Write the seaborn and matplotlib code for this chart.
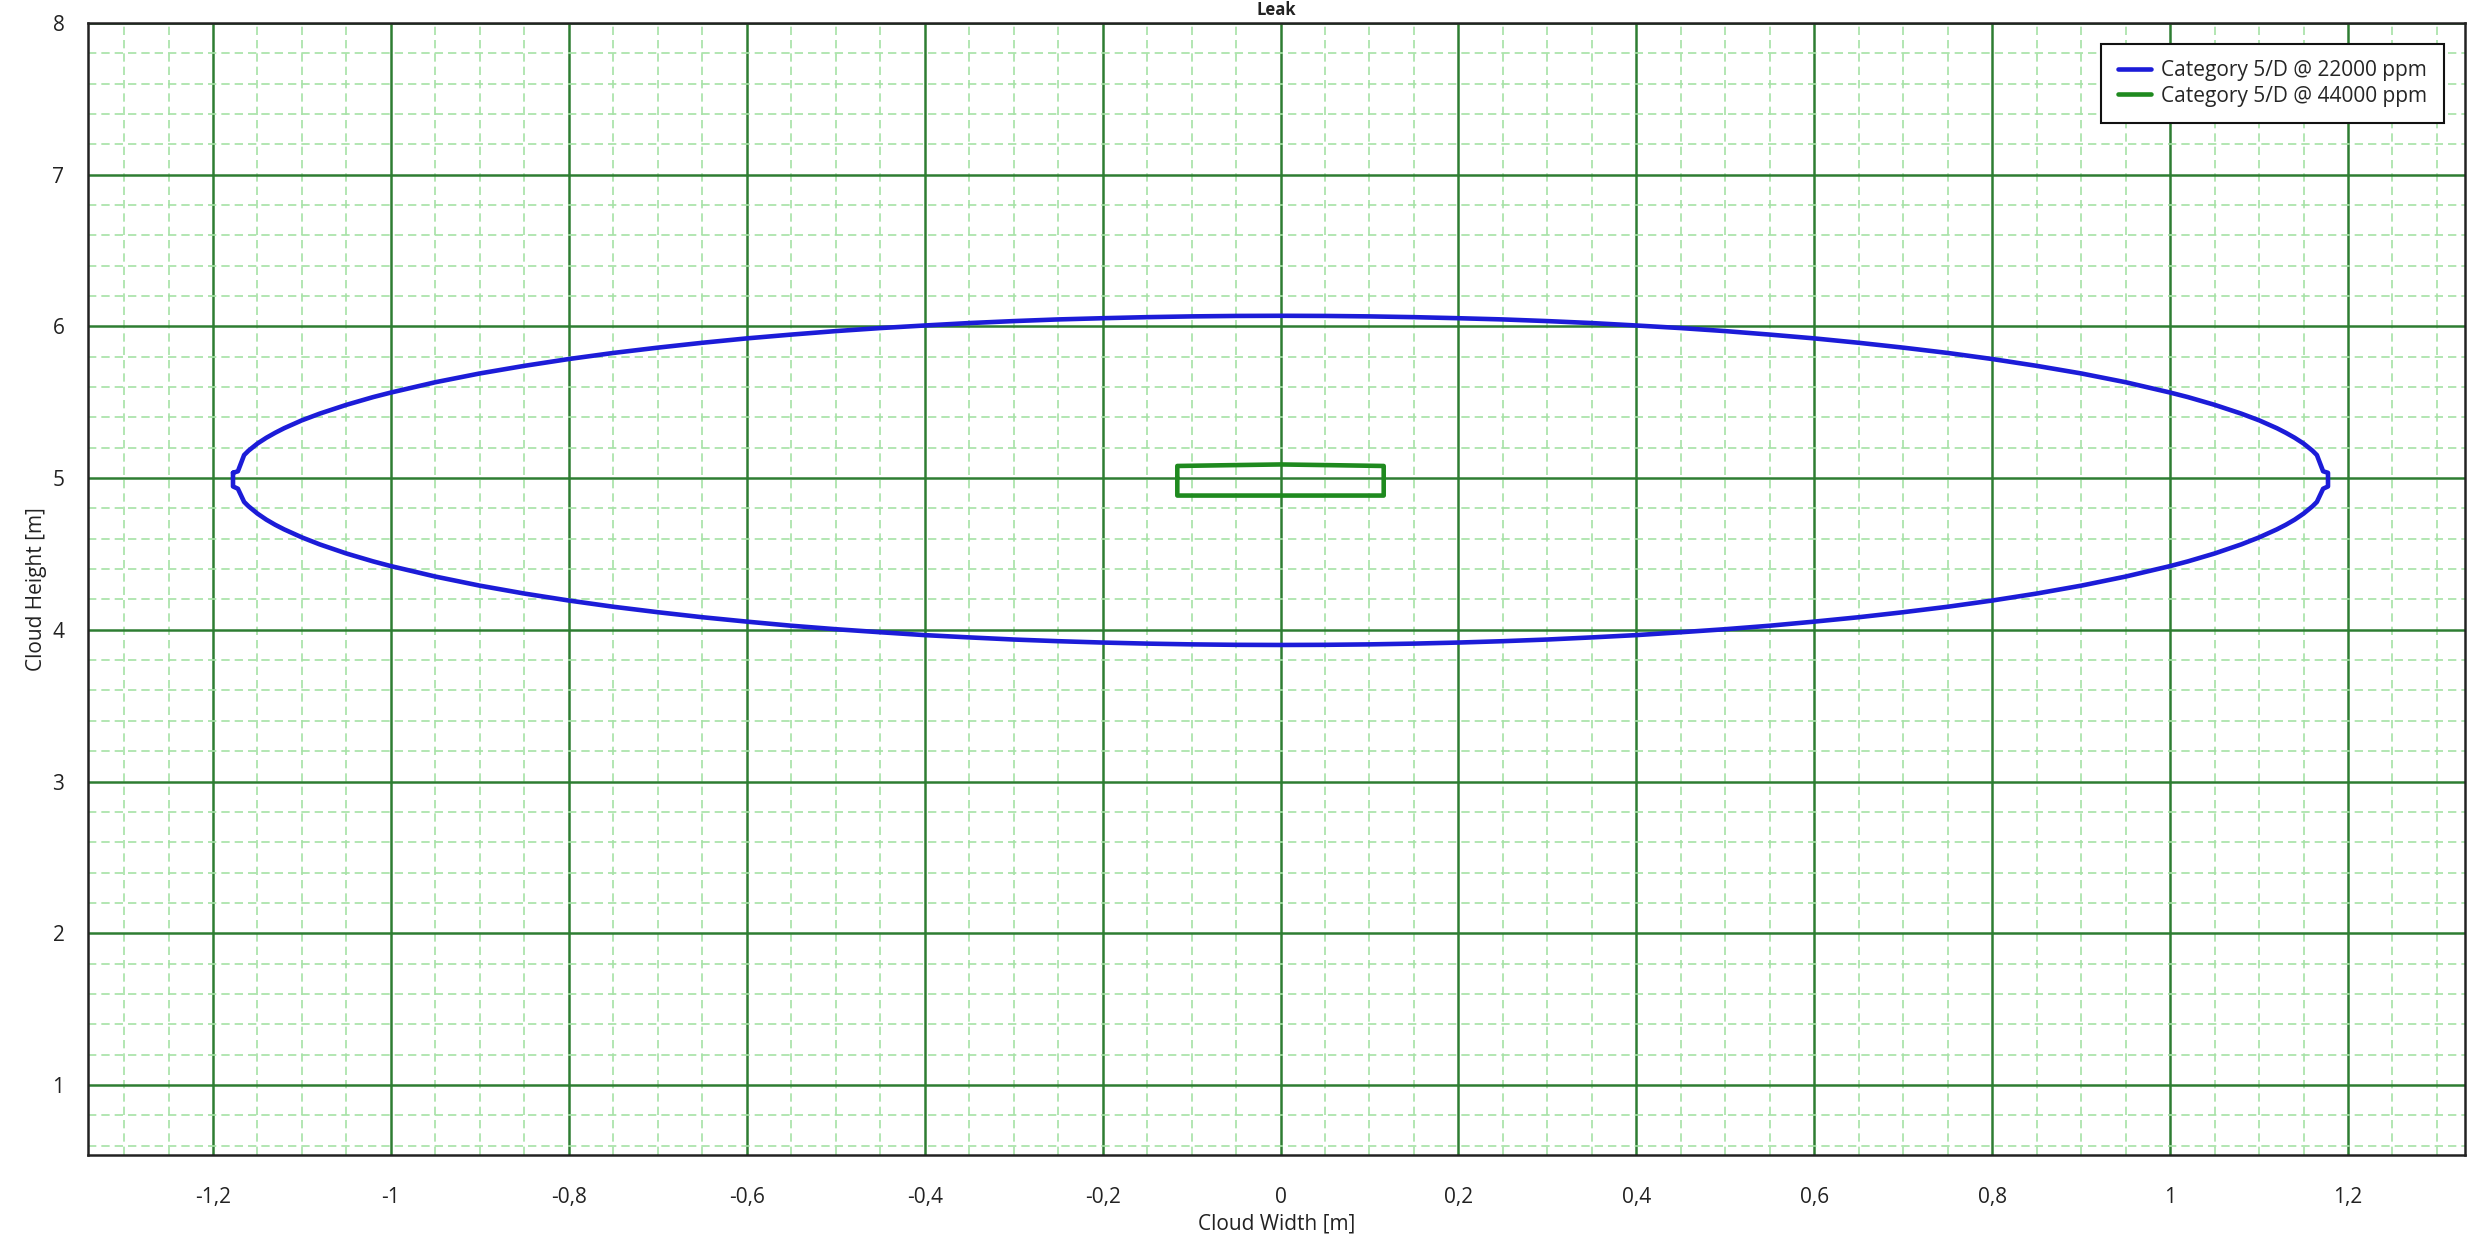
import matplotlib
matplotlib.use("Agg")
import matplotlib.pyplot as plt
from matplotlib.ticker import MultipleLocator, FuncFormatter
import seaborn as sns
import pandas as pd

# ---- data ----
series_names = ["Category 5/D @ 22000 ppm", "Category 5/D @ 44000 ppm"]

# 22000 ppm contour: x positions with upper and lower edge heights
c1_x = [-1.1775, -1.172, -1.165, -1.16, -1.15, -1.14, -1.13, -1.12, -1.10, -1.08,
        -1.05, -1.02, -1.00, -0.95, -0.90, -0.85, -0.80, -0.75, -0.70, -0.65,
        -0.60, -0.55, -0.50, -0.45, -0.40, -0.35, -0.30, -0.25, -0.20, -0.15,
        -0.10, -0.05, 0.00,
        0.05, 0.10, 0.15, 0.20, 0.25, 0.30, 0.35, 0.40, 0.45, 0.50,
        0.55, 0.60, 0.65, 0.70, 0.75, 0.80, 0.85, 0.90, 0.95, 1.00,
        1.02, 1.05, 1.08, 1.10, 1.12, 1.13, 1.14, 1.15, 1.16, 1.165, 1.172, 1.1775]
c1_upper = [5.035, 5.045, 5.152, 5.181, 5.228, 5.266, 5.299, 5.329, 5.381, 5.425,
            5.483, 5.534, 5.564, 5.632, 5.690, 5.740, 5.785, 5.825, 5.860, 5.892,
            5.921, 5.946, 5.969, 5.989, 6.006, 6.022, 6.035, 6.046, 6.054, 6.061,
            6.066, 6.069, 6.070,
            6.069, 6.066, 6.061, 6.054, 6.046, 6.035, 6.022, 6.006, 5.989, 5.969,
            5.946, 5.921, 5.892, 5.860, 5.825, 5.785, 5.740, 5.690, 5.632, 5.564,
            5.534, 5.483, 5.425, 5.381, 5.329, 5.299, 5.266, 5.228, 5.181, 5.152, 5.045, 5.035]
c1_lower = [4.945, 4.930, 4.843, 4.814, 4.766, 4.726, 4.692, 4.662, 4.609, 4.563,
            4.503, 4.451, 4.420, 4.351, 4.291, 4.239, 4.193, 4.152, 4.116, 4.083,
            4.054, 4.027, 4.004, 3.984, 3.965, 3.950, 3.936, 3.925, 3.916, 3.909,
            3.904, 3.901, 3.900,
            3.901, 3.904, 3.909, 3.916, 3.925, 3.936, 3.950, 3.965, 3.984, 4.004,
            4.027, 4.054, 4.083, 4.116, 4.152, 4.193, 4.239, 4.291, 4.351, 4.420,
            4.451, 4.503, 4.563, 4.609, 4.662, 4.692, 4.726, 4.766, 4.814, 4.843, 4.930, 4.945]

# 44000 ppm contour (closed loop)
c2_x = [-0.116, -0.116, -0.06, 0.00, 0.06, 0.116, 0.116, 0.00, -0.116, -0.116]
c2_y = [5.00, 5.08, 5.085, 5.09, 5.085, 5.08, 4.885, 4.885, 4.885, 5.00]

title_text = "Leak"
x_label = "Cloud Width [m]"
y_label = "Cloud Height [m]"

# closed loop for the 22000 ppm contour: upper edge left->right, lower edge right->left
loop_x = c1_x + c1_x[::-1] + [c1_x[0]]
loop_y = c1_upper + c1_lower[::-1] + [c1_upper[0]]

df = pd.DataFrame({
    "x": loop_x + c2_x,
    "y": loop_y + c2_y,
    "series": [series_names[0]] * len(loop_x) + [series_names[1]] * len(c2_x),
})

# ---- style ----
sns.set_style("white")
plt.rcParams["font.family"] = ["Open Sans", "DejaVu Sans"]

fig = plt.figure(figsize=(24.68, 12.40), dpi=100)
ax = fig.add_axes([88 / 2468, 1 - 1155 / 1240, (2465 - 88) / 2468, (1155 - 23) / 1240])

ax.set_xlim(-1.3405, 1.3315)
ax.set_ylim(0.538, 8.0)

ax.xaxis.set_major_locator(MultipleLocator(0.2))
ax.xaxis.set_minor_locator(MultipleLocator(0.05))
ax.yaxis.set_major_locator(MultipleLocator(1))
ax.yaxis.set_minor_locator(MultipleLocator(0.2))

def fmt(v, pos):
    if abs(v) < 1e-9:
        return "0"
    s = f"{v:.1f}".rstrip("0").rstrip(".")
    return s.replace(".", ",")

ax.xaxis.set_major_formatter(FuncFormatter(fmt))
ax.yaxis.set_major_formatter(FuncFormatter(fmt))

ax.grid(which="minor", color="#a6e2a6", linestyle=(0, (5, 3)), linewidth=1.2, zorder=0)
ax.grid(which="major", color="#2e7d32", linestyle="-", linewidth=1.8, zorder=0.5)
ax.set_axisbelow(True)

sns.lineplot(data=df, x="x", y="y", hue="series", sort=False, estimator=None,
             palette={series_names[0]: "#1c1cd8", series_names[1]: "#1f8a1f"},
             linewidth=3.3, ax=ax, legend=True)

for s in ax.spines.values():
    s.set_color("#222222")
    s.set_linewidth(1.8)

ax.tick_params(axis="both", which="major", direction="out", length=11, width=1.8,
               color="#222222", labelsize=15, labelcolor="#222222", pad=6)
ax.tick_params(axis="both", which="minor", direction="out", length=6, width=1.8,
               color="#222222")
ax.tick_params(axis="x", which="major", pad=12)

ax.set_xlabel(x_label, fontsize=15, color="#222222", labelpad=4)
ax.set_ylabel(y_label, fontsize=15, color="#222222", labelpad=4)

leg = ax.legend(loc="upper right", fontsize=15, frameon=True, fancybox=False,
                edgecolor="#111111", framealpha=1, borderaxespad=1.0,
                handlelength=1.6, handletextpad=0.5, borderpad=0.8, labelspacing=0.2)
leg.get_frame().set_linewidth(1.5)
for line in leg.get_lines():
    line.set_linewidth(3.3)

fig.text(1276 / 2468, 1 - 15 / 1240, title_text, ha="center", va="baseline",
         fontsize=12, fontweight="bold", color="#222222")

fig.savefig("out.png", dpi=100, facecolor="white")
